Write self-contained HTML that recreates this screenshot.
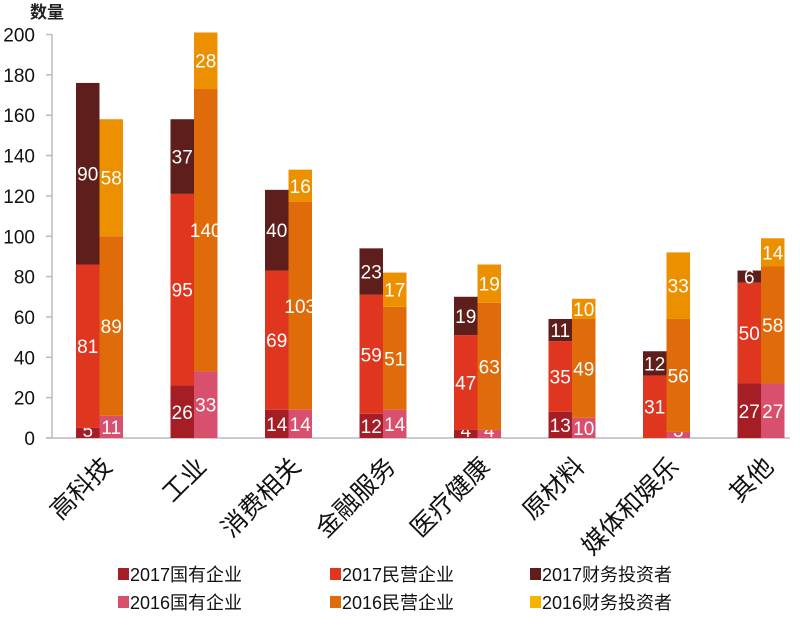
<!DOCTYPE html>
<html><head><meta charset="utf-8">
<style>
body{margin:0;background:#fff;}
svg text{font-family:"Liberation Sans","Noto Sans CJK SC",sans-serif;}
</style></head>
<body>
<svg id="chart" width="800" height="624" xmlns="http://www.w3.org/2000/svg">
<g id="axes"></g>
<g id="bars"></g>
<g id="xlabels"></g>
<text x="30" y="18" font-size="17" font-weight="bold" fill="#222">数量</text>
<g id="legend"></g>
</svg>
<script>
const categories=["高科技","工业","消费相关","金融服务","医疗健康","原材料","媒体和娱乐","其他"];
const soe2017=[5,26,14,12,4,13,0,27];
const pri2017=[81,95,69,59,47,35,31,50];
const fin2017=[90,37,40,23,19,11,12,6];
const soe2016=[11,33,14,14,4,10,3,27];
const pri2016=[89,140,103,51,63,49,56,58];
const fin2016=[58,28,16,17,19,10,33,14];
const yTicks=[0,20,40,60,80,100,120,140,160,180,200];
const seriesNames=["2017国有企业","2017民营企业","2017财务投资者","2016国有企业","2016民营企业","2016财务投资者"];
const colors=["#a51d25","#e0361f","#5e1f1c","#d9506e","#e06b0a","#ed9000"];
const legendColors=["#a51d25","#e0361f","#5e1f1c","#d9506e","#e06b0a","#f5b400"];
const NS="http://www.w3.org/2000/svg";
const y0=438,y200=34.5;
function yS(v){return y0-(y0-y200)*v/200;}
function xC(i){return 99.5+i*94.5;}
function mk(tag,attrs,parent){const e=document.createElementNS(NS,tag);for(const k in attrs)e.setAttribute(k,attrs[k]);parent.appendChild(e);return e;}
const axes=document.getElementById('axes');
let l=mk('line',{x1:52,y1:y200,x2:52,y2:y0,stroke:'#bbb','stroke-width':1.5},axes);


l=mk('line',{x1:46,y1:y0,x2:790,y2:y0,stroke:'#bbb','stroke-width':1.5},axes);


yTicks.forEach(t=>{
  const tk=mk('line',{x1:46,y1:yS(t),x2:52,y2:yS(t),stroke:'#bbb','stroke-width':1.5},axes);
  
  
  const tx=mk('text',{x:35,y:yS(t)+7,'text-anchor':'end','font-size':19,fill:'#111'},axes);
  
  
  tx.textContent=t;
});
const bars=document.getElementById('bars');
function stack(i,x,vals,cols,tag){
  let acc=0;
  vals.forEach((v,k)=>{
    if(v<=0)return;
    const yt=yS(acc+v),yb=yS(acc);
    const r=mk('rect',{x:x,y:yt,width:23.5,height:yb-yt,fill:cols[k]},bars);
    
    
    let ly=(yt+yb)/2+7;
    if(ly>y0-1)ly=y0-1;
    const t=mk('text',{x:x+11.75,y:ly,'text-anchor':'middle','font-size':19,fill:'#fff'},bars);
    
    
    t.textContent=v;
    acc+=v;
  });
}
categories.forEach((c,i)=>{
  const cx=xC(i);
  stack(i,cx-23.5,[soe2017[i],pri2017[i],fin2017[i]],colors.slice(0,3),'2017');
  stack(i,cx,[soe2016[i],pri2016[i],fin2016[i]],colors.slice(3,6),'2016');
  const xl=document.getElementById('xlabels');
  const t=mk('text',{x:0,y:0,'text-anchor':'end','font-size':25,fill:'#111',transform:`translate(${cx+14},${468}) rotate(-45)`},xl);
  
  
  t.textContent=c;
});
const lg=document.getElementById('legend');
const lx=[118,330,530],ly=[581,609];
seriesNames.forEach((n,k)=>{
  const col=k%3,row=Math.floor(k/3);
  const g=mk('g',{},lg);
  
  
  mk('rect',{x:lx[col],y:ly[row]-13,width:11,height:12,fill:legendColors[k]},g);
  const t=mk('text',{x:lx[col]+12,y:ly[row],'font-size':18,fill:'#111'},g);
  t.textContent=n;
});
</script>
</body></html>
